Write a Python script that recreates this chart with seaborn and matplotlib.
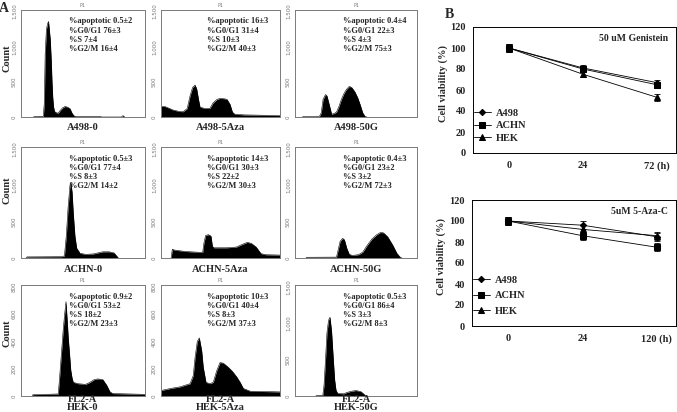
import numpy as np
import pandas as pd
import matplotlib
matplotlib.use("Agg")
import matplotlib.pyplot as plt
import seaborn as sns

sns.set_style("white")
plt.rcParams['font.family'] = ['Liberation Serif', 'DejaVu Serif']

# ---- panel A: DNA content histograms (FL2-A channel, counts)
a498_0_ch = [100, 110, 180, 188, 195, 205, 215, 222, 228, 236, 244, 250, 256, 262, 270, 285, 300, 315, 335, 355,
             375, 395, 410, 425, 440, 640, 650, 810, 823, 835]
a498_0_ct = [0, 8, 10, 200, 900, 1250, 1330, 1360, 1250, 1100, 800, 500, 280, 150, 80, 60, 55, 90, 130, 150,
             140, 120, 60, 20, 8, 8, 0, 0, 20, 0]

a498_5aza_ch = [0, 30, 60, 100, 150, 185, 220, 244, 265, 286, 300, 315, 328, 370, 412, 437, 470, 496, 530, 555,
                580, 600, 620, 700, 850, 1000]
a498_5aza_ct = [150, 150, 130, 100, 80, 75, 120, 300, 420, 455, 400, 250, 140, 120, 125, 200, 250, 265, 260, 250,
                180, 70, 40, 30, 25, 20]

a498_50g_ch = [60, 65, 200, 215, 230, 250, 262, 280, 300, 320, 340, 360, 380, 400, 420, 445, 465, 490, 515, 535,
               555, 575, 590]
a498_50g_ct = [0, 5, 8, 60, 250, 320, 300, 180, 40, 50, 70, 150, 250, 330, 390, 435, 420, 360, 270, 170,
               60, 5, 0]

achn_0_ch = [40, 48, 330, 350, 365, 380, 395, 403, 412, 422, 435, 449, 476, 520, 580, 620, 660, 710, 750, 775, 785]
achn_0_ct = [0, 15, 18, 30, 300, 700, 1000, 1030, 900, 600, 300, 135, 65, 50, 55, 70, 85, 85, 70, 20, 0]

achn_5aza_ch = [85, 95, 110, 200, 300, 350, 360, 375, 400, 420, 432, 445, 550, 633, 680, 725, 760, 800, 840, 880,
                1000]
achn_5aza_ct = [0, 120, 110, 90, 80, 75, 200, 310, 320, 300, 160, 140, 140, 150, 185, 215, 200, 150, 60, 45, 40]

achn_50g_ch = [90, 96, 340, 352, 370, 390, 405, 425, 445, 470, 520, 555, 590, 630, 670, 700, 725, 760, 800, 835,
               860, 875]
achn_50g_ct = [0, 10, 12, 100, 230, 270, 250, 130, 50, 35, 45, 80, 170, 260, 320, 350, 345, 290, 180, 65, 15, 0]

hek_0_ch = [90, 97, 200, 300, 310, 325, 340, 352, 363, 372, 381, 392, 401, 412, 422, 460, 520, 556, 590, 620,
            660, 690, 718, 740, 1000]
hek_0_ct = [0, 10, 12, 15, 120, 300, 480, 600, 690, 560, 425, 300, 190, 130, 100, 90, 85, 100, 120, 125,
            120, 80, 30, 18, 12]

hek_5aza_ch = [0, 80, 160, 244, 271, 286, 305, 322, 342, 355, 378, 410, 439, 468, 496, 524, 566, 600, 636, 665,
               692, 750, 1000]
hek_5aza_ct = [40, 55, 67, 90, 150, 280, 400, 425, 330, 210, 100, 90, 100, 185, 245, 240, 210, 180, 140, 100,
               55, 35, 30]

hek_50g_ch = [170, 180, 228, 238, 250, 262, 275, 287, 300, 314, 325, 336, 350, 400, 420, 460, 500, 540, 565, 580]
hek_50g_ct = [0, 8, 10, 150, 500, 870, 1040, 1080, 880, 500, 220, 80, 35, 30, 45, 65, 75, 60, 25, 0]

hist_names = [["A498-0", "A498-5Aza", "A498-50G"],
              ["ACHN-0", "ACHN-5Aza", "ACHN-50G"],
              ["HEK-0", "HEK-5Aza", "HEK-50G"]]
hist_data = [[(a498_0_ch, a498_0_ct), (a498_5aza_ch, a498_5aza_ct), (a498_50g_ch, a498_50g_ct)],
             [(achn_0_ch, achn_0_ct), (achn_5aza_ch, achn_5aza_ct), (achn_50g_ch, achn_50g_ct)],
             [(hek_0_ch, hek_0_ct), (hek_5aza_ch, hek_5aza_ct), (hek_50g_ch, hek_50g_ct)]]
hist_ymax = [[1500, 1500, 1500], [1500, 1500, 1500], [800, 800, 1500]]

stats = [[["0.5±2", "76±3", "7±4", "16±4"], ["16±3", "31±4", "10±3", "40±3"], ["0.4±4", "22±3", "4±3", "75±3"]],
         [["0.5±3", "77±4", "8±3", "14±2"], ["14±3", "30±3", "22±2", "30±3"], ["0.4±3", "23±2", "3±2", "72±3"]],
         [["0.9±2", "53±2", "18±2", "23±3"], ["10±3", "40±4", "8±3", "37±3"], ["0.5±3", "86±4", "3±3", "8±3"]]]

# ---- panel B: cell viability (%)
cell_lines = ["A498", "ACHN", "HEK"]
gen_times = ["0", "24", "72 (h)"]
gen_a498 = [100, 81, 67]
gen_achn = [100, 80, 65]
gen_hek = [100, 75, 53]
gen_err = [4, 3, 3]
aza_times = ["0", "24", "120 (h)"]
aza_a498 = [100, 96, 85]
aza_achn = [100, 86, 75]
aza_hek = [100, 92, 86]
aza_err = [4, 4, 4]

W, H = 677, 412
fig = plt.figure(figsize=(W / 100, H / 100), dpi=100)


def px_axes(x0, y0, x1, y1):
    return fig.add_axes([x0 / W, 1 - y1 / H, (x1 - x0) / W, (y1 - y0) / H])


cols = [(21, 145), (161, 280), (295, 417)]
rows = [(10, 117), (147, 258), (285, 396)]
frame_col = "#7a7a7a"
sans = ['DejaVu Sans']

for r, (y0, y1) in enumerate(rows):
    for c, (x0, x1) in enumerate(cols):
        ax = px_axes(x0, y0, x1, y1)
        ch, ct = hist_data[r][c]
        sns.lineplot(x=ch, y=ct, color="black", lw=0.4, ax=ax)
        ax.fill_between(ch, ct, color="black", lw=0)
        ymax = hist_ymax[r][c]
        ax.set_xlim(0, 1000)
        ax.set_ylim(0, ymax * 1.015)
        if ymax == 1500:
            ticks = [0, 500, 1000, 1500]
        else:
            ticks = [0, 200, 400, 600, 800]
        ax.set_yticks(ticks)
        ax.set_yticklabels([f"{t:,}" for t in ticks], rotation=90, va="center",
                           fontsize=4, color="#777777", family=sans)
        ax.set_xticks([])
        ax.tick_params(axis="y", length=2, width=0.5, color=frame_col, pad=1)
        for s in ax.spines.values():
            s.set_color(frame_col)
            s.set_linewidth(0.7)
        ax.set_xlabel("")
        ax.set_ylabel("")
        ax.text(0.5, 1.02, "P1", transform=ax.transAxes, ha="center", va="bottom",
                fontsize=3.5, color="#777777", family=sans)
        s_ = stats[r][c]
        txt = (f"%apoptotic {s_[0]}\n%G0/G1 {s_[1]}\n%S {s_[2]}\n%G2/M {s_[3]}")
        ax.text(0.39, 0.93, txt, transform=ax.transAxes, ha="left", va="top",
                fontsize=6, fontweight="bold", linespacing=1.2)
        cx = (x0 + x1) / 2 / W
        if r < 2:
            fig.text(cx, 1 - (y1 + 11) / H, hist_names[r][c], ha="center", va="center",
                     fontsize=7.5, fontweight="bold")
        else:
            fig.text(cx, 1 - 399.5 / H, "FL2-A", ha="center", va="center",
                     fontsize=7.5, fontweight="bold")
            fig.text(cx, 1 - 407.5 / H, hist_names[r][c], ha="center", va="center",
                     fontsize=7.5, fontweight="bold")

for yc in [58, 190, 333]:
    fig.text(7 / W, 1 - yc / H, "Count", rotation=90, ha="center", va="center",
             fontsize=7.5, fontweight="bold")

fig.text(4 / W, 1 - 9 / H, "A", ha="center", va="center", fontsize=10, fontweight="bold")
fig.text(449 / W, 1 - 15 / H, "B", ha="center", va="center", fontsize=10, fontweight="bold")

markers = {"A498": "D", "ACHN": "s", "HEK": "^"}
msize = {"A498": 3.2, "ACHN": 3.8, "HEK": 4.2}


def viability(ax, times, series, err, title, spacing):
    pos = np.arange(len(times))
    for name, vals in zip(cell_lines, series):
        df = pd.DataFrame({"pos": pos, "viab": vals})
        sns.lineplot(data=df, x="pos", y="viab", color="black", lw=0.6,
                     marker=markers[name], markersize=msize[name], markeredgecolor="black",
                     ax=ax, label=name)
        ax.errorbar(pos, vals, yerr=err, fmt="none", ecolor="black", elinewidth=0.6,
                    capsize=2, capthick=0.6)
    ax.set_xlim(-0.486, 2.257)
    ax.set_ylim(0, 120)
    ax.set_yticks(range(0, 121, 20))
    ax.set_xticks(pos)
    ax.set_xticklabels(times)
    ax.set_xticks([0.5, 1.5], minor=True)
    ax.tick_params(axis="x", which="major", length=0, pad=6)
    ax.tick_params(axis="x", which="minor", length=3, width=0.7, direction="out")
    ax.tick_params(axis="y", length=3, width=0.7, direction="out", pad=2)
    for lab in ax.get_xticklabels() + ax.get_yticklabels():
        lab.set_fontsize(7.5)
        lab.set_fontweight("bold")
    for s in ax.spines.values():
        s.set_color("black")
        s.set_linewidth(0.7)
    ax.set_xlabel("")
    ax.set_ylabel("Cell viability (%)", fontsize=7.5, fontweight="bold")
    ax.yaxis.set_label_coords(-0.125, 0.55)
    ax.text(0.96, 0.91, title, transform=ax.transAxes, ha="right", va="center",
            fontsize=7, fontweight="bold")
    ax.legend(loc="lower left", bbox_to_anchor=(-0.02, 0.04), frameon=False,
              handlelength=1.6, handletextpad=0.5, labelspacing=spacing,
              borderpad=0, prop={"weight": "bold", "size": 7.5})


axb1 = px_axes(473, 27, 676, 153)
viability(axb1, gen_times, [gen_a498, gen_achn, gen_hek], gen_err, "50 uM Genistein", 0.3)
axb2 = px_axes(472, 200, 676, 326)
viability(axb2, aza_times, [aza_a498, aza_achn, aza_hek], aza_err, "5uM 5-Aza-C", 0.6)

fig.savefig("out.png", dpi=100)
